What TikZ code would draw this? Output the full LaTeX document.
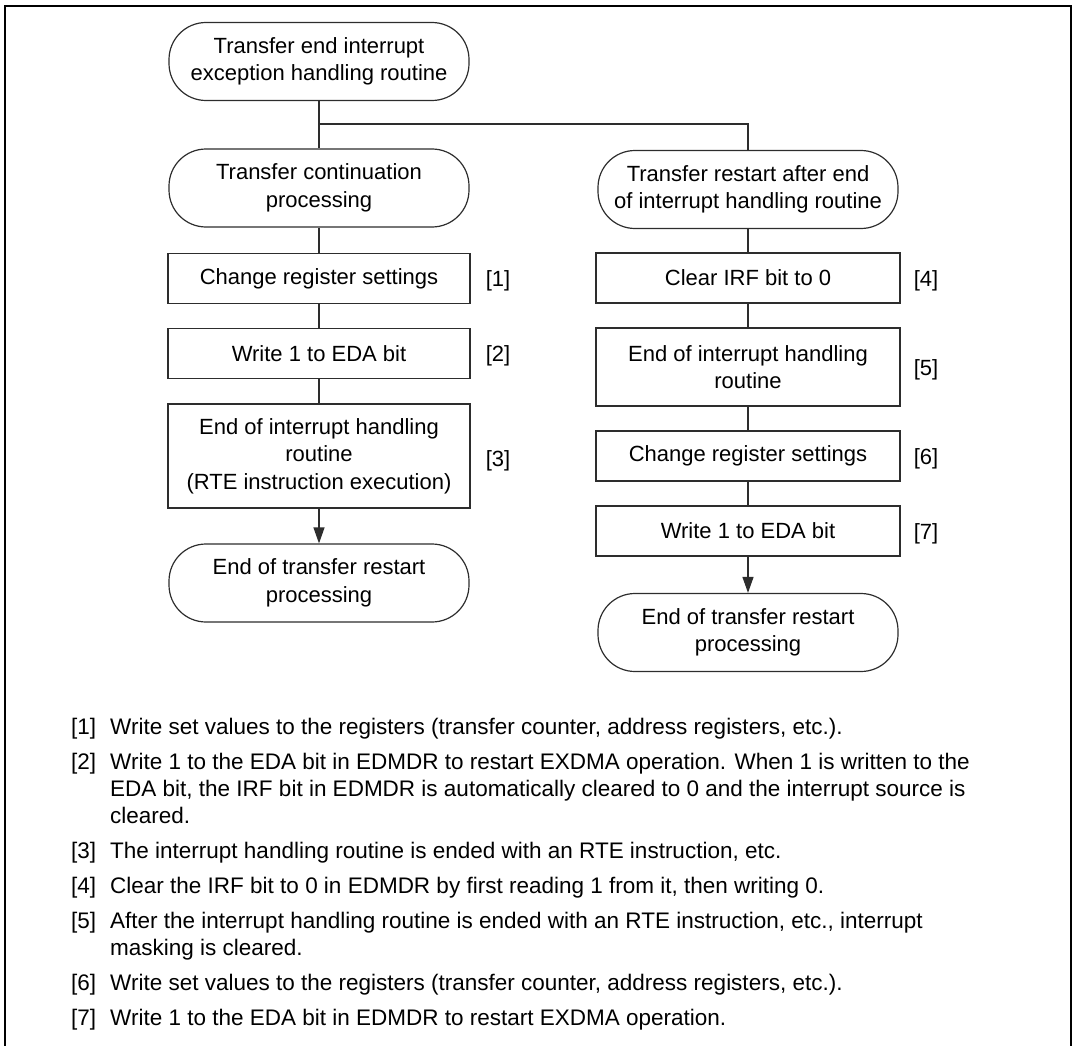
\documentclass[tikz,border=0pt]{standalone}
\usepackage{fontspec}
\setmainfont{Liberation Sans}
\usetikzlibrary{positioning,arrows.meta}
\definecolor{LineGray}{RGB}{45,45,45}

\begin{document}
\begin{tikzpicture}[x=1pt,y=-1pt,
    every node/.style={font=\fontsize{22}{27.5}\selectfont,align=center,inner sep=0pt},
    termbox/.style={draw=LineGray,line width=1.2pt,rounded corners=37pt,minimum width=300pt,minimum height=78pt},
    procbox/.style={draw=LineGray,line width=1.2pt,minimum width=302pt,minimum height=50pt},
    tag/.style={anchor=west,text height=16pt,text depth=0pt},
    flow/.style={draw=LineGray,line width=1.2pt},
    note/.style={font=\fontsize{22.5}{27}\selectfont,align=left,anchor=base west}]
    \useasboundingbox (0,0) rectangle (1076,1046);
    \draw[line width=2.6pt] (5,1046) |- (1071,6) -- (1071,1046);
    % left branch
    \node[termbox] (t0) at (319,61.5) {Transfer end interrupt\\exception handling routine};
    \coordinate (br) at (319,124);
    \node[termbox] (t1) at (319,188) {Transfer continuation\\processing};
    \node[procbox] (b1) at (319,278.5) {Change register settings};
    \node[procbox] (b2) at (319,353.5) {Write 1 to EDA bit};
    \node[procbox,minimum height=104pt] (b3) at (319,456) {End of interrupt handling\\routine\\(RTE instruction execution)};
    \node[termbox] (e1) at (319,583) {End of transfer restart\\processing};
    \node[tag,right=15pt of b1] (k1) {[1]};
    \node[tag,right=15pt of b2] (k2) {[2]};
    \node[tag,right=15pt of b3,yshift=-2pt] (k3) {[3]};
    % right branch
    \node[termbox] (t2) at (748,189.5) {Transfer restart after end\\of interrupt handling routine};
    \node[procbox,minimum width=304pt] (b4) at (748,278) {Clear IRF bit to 0};
    \node[procbox,minimum width=304pt,minimum height=78pt] (b5) at (748,367) {End of interrupt handling\\routine};
    \node[procbox,minimum width=304pt] (b6) at (748,456) {Change register settings};
    \node[procbox,minimum width=304pt] (b7) at (748,531) {Write 1 to EDA bit};
    \node[termbox] (e2) at (748,632.5) {End of transfer restart\\processing};
    \node[tag,right=13pt of b4] (k4) {[4]};
    \node[tag,right=13pt of b5] (k5) {[5]};
    \node[tag,right=13pt of b6] (k6) {[6]};
    \node[tag,right=13pt of b7] (k7) {[7]};
    \draw[flow] (t0) -- (t1) -- (b1) -- (b2) -- (b3);
    \draw[flow] (br) -| (t2);
    \draw[flow] (t2) -- (b4) -- (b5) -- (b6) -- (b7);
    \draw[flow,-{Triangle[length=16pt,width=11pt]}] (b3) -- (e1);
    \draw[flow,-{Triangle[length=16pt,width=11pt]}] (b7) -- (e2);
    % notes
    \node[note] (m1) at (71,734) {[1]};
    \node[note] (n1) at (110,734) {Write set values to the registers (transfer counter, address registers, etc.).};
    \node[note] (m2) at (71,769) {[2]};
    \node[note] (n2) at (110,823) {Write 1 to the EDA bit in EDMDR to restart EXDMA operation. When 1 is written to the\\EDA bit, the IRF bit in EDMDR is automatically cleared to 0 and the interrupt source is\\cleared.};
    \node[note] (m3) at (71,858) {[3]};
    \node[note] (n3) at (110,858) {The interrupt handling routine is ended with an RTE instruction, etc.};
    \node[note] (m4) at (71,893) {[4]};
    \node[note] (n4) at (110,893) {Clear the IRF bit to 0 in EDMDR by first reading 1 from it, then writing 0.};
    \node[note] (m5) at (71,928) {[5]};
    \node[note] (n5) at (110,955) {After the interrupt handling routine is ended with an RTE instruction, etc., interrupt\\masking is cleared.};
    \node[note] (m6) at (71,990) {[6]};
    \node[note] (n6) at (110,990) {Write set values to the registers (transfer counter, address registers, etc.).};
    \node[note] (m7) at (71,1025) {[7]};
    \node[note] (n7) at (110,1025) {Write 1 to the EDA bit in EDMDR to restart EXDMA operation.};
\end{tikzpicture}
\end{document}
